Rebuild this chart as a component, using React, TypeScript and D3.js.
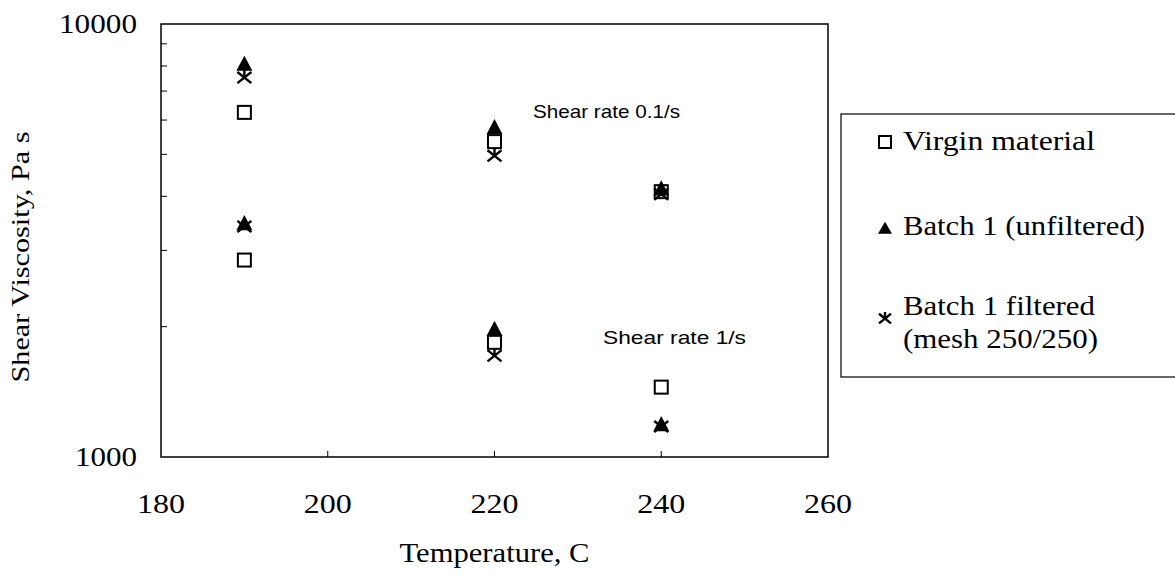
import React from "react";
import * as d3 from "d3";

const temperatures = [190, 220, 240];
const virgin = [6250, 2850, 5350, 1840, 4100, 1450];
const batch1 = [8050, 3450, 5750, 1965, 4150, 1185];
const batch1Filtered = [7550, 3420, 4980, 1720, 4060, 1180];
const pointTemps = [190, 190, 220, 220, 240, 240];
const xTicks = [180, 200, 220, 240, 260];
const yLabelTicks = [1000, 10000];
const yMinorTicks = [2000, 3000, 4000, 5000, 6000, 7000, 8000, 9000];
const legendLabels = ["Virgin material", "Batch 1 (unfiltered)", "Batch 1 filtered", "(mesh 250/250)"];

const W = 1175, H = 575;
const left = 161, right = 828, top = 24, bottom = 457;

const x = d3.scaleLinear().domain([180, 260]).range([left, right]);
const y = d3.scaleLog().domain([1000, 10000]).range([bottom, top]);

const serif = "'Liberation Serif', 'Times New Roman', serif";
const sans = "'Liberation Sans', Arial, sans-serif";

function Square({ cx, cy, s = 13 }: { cx: number; cy: number; s?: number }) {
  return <rect x={cx - s / 2} y={cy - s / 2} width={s} height={s} fill="none" stroke="#000" strokeWidth={2} />;
}
function Tri({ cx, cy, s = 16, h }: { cx: number; cy: number; s?: number; h?: number }) {
  const hh = h ?? s * 0.95;
  return <path d={`M${cx},${cy - hh * 0.6} L${cx + s / 2},${cy + hh * 0.4} L${cx - s / 2},${cy + hh * 0.4} Z`} fill="#000" />;
}
function Star({ cx, cy, s = 14 }: { cx: number; cy: number; s?: number }) {
  const r = s / 2;
  return (
    <g stroke="#000" strokeWidth={2.4}>
      <line x1={cx} y1={cy - r} x2={cx} y2={cy + r * 0.2} />
      <line x1={cx - r} y1={cy - r * 0.7} x2={cx + r} y2={cy + r * 0.9} />
      <line x1={cx + r} y1={cy - r * 0.7} x2={cx - r} y2={cy + r * 0.9} />
    </g>
  );
}

export default function App() {
  const legendRows = [
    { label: legendLabels[0], yb: 150, len: 192, marker: <Square cx={885} cy={142} s={12} /> },
    { label: legendLabels[1], yb: 235, len: 242, marker: <Tri cx={885} cy={229} s={14} h={12} /> },
    { label: legendLabels[2], yb: 315, len: 192, marker: <Star cx={885} cy={318} s={12} /> },
  ];
  return (
    <svg width={W} height={H} style={{ position: "absolute", left: 0, top: 0, background: "#fff" }}>
      <rect x={0} y={0} width={W} height={H} fill="#fff" />
      <rect x={left} y={top} width={right - left} height={bottom - top} fill="none" stroke="#000" strokeWidth={1.5} />
      {yMinorTicks.map((v) => (
        <line key={v} x1={left} x2={left + 6} y1={y(v)} y2={y(v)} stroke="#000" strokeWidth={1} />
      ))}
      {xTicks.slice(1, -1).map((v) => (
        <line key={v} x1={x(v)} x2={x(v)} y1={bottom} y2={bottom - 6} stroke="#000" strokeWidth={1} />
      ))}
      {xTicks.map((v) => (
        <text key={v} x={x(v)} y={513} textAnchor="middle" fontFamily={serif} fontSize={27} textLength={48} lengthAdjust="spacingAndGlyphs">{v}</text>
      ))}
      {yLabelTicks.map((v) => (
        <text key={v} x={left - 24} y={y(v) + 9} textAnchor="end" fontFamily={serif} fontSize={27} textLength={v === 10000 ? 78 : 62} lengthAdjust="spacingAndGlyphs">{v}</text>
      ))}
      <text x={x(220)} y={562} textAnchor="middle" fontFamily={serif} fontSize={27} textLength={190} lengthAdjust="spacingAndGlyphs">Temperature, C</text>
      <text transform={`translate(29, 257) rotate(-90)`} textAnchor="middle" fontFamily={serif} fontSize={25} textLength={251} lengthAdjust="spacingAndGlyphs">Shear Viscosity, Pa s</text>
      <text x={533} y={118} fontFamily={sans} fontSize={19} textLength={147} lengthAdjust="spacingAndGlyphs">Shear rate 0.1/s</text>
      <text x={603} y={344} fontFamily={sans} fontSize={19} textLength={143} lengthAdjust="spacingAndGlyphs">Shear rate 1/s</text>
      {batch1Filtered.map((v, i) => (
        <Star key={"s" + i} cx={x(pointTemps[i])} cy={y(v)} />
      ))}
      {batch1.map((v, i) => (
        <Tri key={"t" + i} cx={x(pointTemps[i])} cy={y(v)} />
      ))}
      {virgin.map((v, i) => (
        <Square key={"q" + i} cx={x(pointTemps[i])} cy={y(v)} />
      ))}
      <rect x={841} y={114} width={360} height={263} fill="none" stroke="#000" strokeWidth={1.2} />
      {legendRows.map((r) => (
        <g key={r.label}>
          {r.marker}
          <text x={903} y={r.yb} fontFamily={serif} fontSize={27} textLength={r.len} lengthAdjust="spacingAndGlyphs">{r.label}</text>
        </g>
      ))}
      <text x={903} y={348} fontFamily={serif} fontSize={27} textLength={195} lengthAdjust="spacingAndGlyphs">{legendLabels[3]}</text>
    </svg>
  );
}
